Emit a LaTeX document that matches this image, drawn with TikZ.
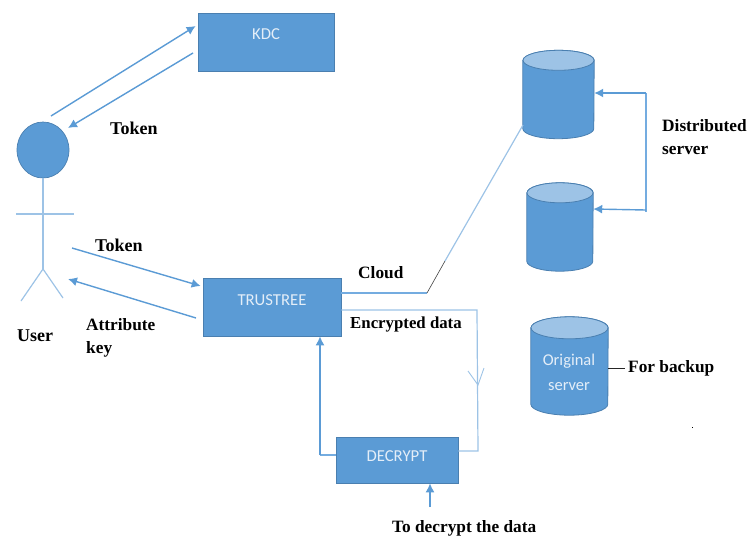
\documentclass[tikz,border=0pt]{standalone}
\usepackage{fontspec}
\setmainfont{Liberation Serif}
\newfontfamily\boxfont{Carlito}
\usetikzlibrary{shapes.geometric,arrows.meta,calc}
\definecolor{mainblue}{HTML}{5B9BD5}
\definecolor{edgeblue}{HTML}{4A7FB0}
\definecolor{paleblue}{HTML}{9DC3E6}
\definecolor{midblue}{HTML}{74ACE0}
\definecolor{boxtext}{HTML}{E4EEF8}
\tikzset{
  x=1pt,y=-1pt,
  boxnode/.style={draw=edgeblue,line width=0.7pt,fill=mainblue,inner sep=0pt},
  boxlabel/.style={text=boxtext,font=\boxfont\fontsize{16.7}{18}\selectfont,inner sep=0pt},
  drum/.style={inner sep=0pt},
  drumline/.style={draw=edgeblue,line width=0.8pt},
  lbl/.style={font=\bfseries\fontsize{17.3}{23.5}\selectfont,text=black,inner sep=0pt,align=left},
  tokenlbl/.style={lbl,font=\bfseries\fontsize{18}{23}\selectfont},
  arrowline/.style={draw=mainblue,line width=1.4pt,-{Latex[length=9pt,width=9pt]}},
  midline/.style={draw=midblue,line width=1.3pt},
  paleline/.style={draw=paleblue,line width=1.2pt},
  limb/.style={draw=paleblue,line width=1.2pt},
}
% #1 node name, #2 half width, #3 half height of the end ellipse
\newcommand{\drumdraw}[3]{%
  \path[fill=mainblue,drumline]
    ($(#1.north west)+(0,#3)$) -- ($(#1.south west)+(0,-#3)$)
    arc[start angle=180,end angle=360,x radius=#2pt,y radius=#3pt]
    -- ($(#1.north east)+(0,#3)$)
    arc[start angle=0,end angle=180,x radius=#2pt,y radius=#3pt] -- cycle;
  \path[fill=paleblue,drumline] ($(#1.north)+(0,#3)$) ellipse[x radius=#2pt,y radius=#3pt];
}
\begin{document}
\begin{tikzpicture}
\useasboundingbox (0,0) rectangle (747,536);
% boxes
\node[boxnode,minimum width=136pt,minimum height=58pt] (kdc) at (266,42) {};
\node[boxlabel] (kdct) at (266,34) {KDC};
\node[boxnode,minimum width=138pt,minimum height=58pt] (trust) at (272,307) {};
\node[boxlabel] (trustt) at (272,300) {TRUSTREE};
\node[boxnode,minimum width=122pt,minimum height=46pt] (dec) at (397,460) {};
\node[boxlabel] (dect) at (397,456) {DECRYPT};
% drums
\node[drum,minimum width=71pt,minimum height=88pt] (d1) at (558.5,94.5) {};
\drumdraw{d1}{35.5}{10}
\node[drum,minimum width=66pt,minimum height=88pt] (d2) at (560,227) {};
\drumdraw{d2}{33}{10}
\node[drum,minimum width=77pt,minimum height=98pt] (d3) at (569.5,366) {};
\drumdraw{d3}{38.5}{11}
\node[text=boxtext,font=\boxfont\fontsize{16.5}{25}\selectfont,align=center,inner sep=0pt] (d3t) at (569,372) {Original\\server};
% user
\node[ellipse,draw=edgeblue,line width=0.7pt,fill=mainblue,minimum width=52pt,minimum height=56pt,inner sep=0pt] (head) at (43,150) {};
\coordinate (hip) at (43,269);
\coordinate (armL) at (16,214);
\coordinate (armR) at (74,214);
\coordinate (footL) at (21,301);
\coordinate (footR) at (63,298);
\draw[limb] (head.south) -- (hip);
\draw[limb] (armL) -- (armR);
\draw[limb] (footL) -- (hip) -- (footR);
% labels
\node[tokenlbl,anchor=west] (ltok1) at (110,128) {Token};
\node[tokenlbl,anchor=west] (ltok2) at (95,245) {Token};
\node[tokenlbl,anchor=west] (luser) at (17,336) {User};
\node[lbl,anchor=north west] (lattr) at (86,318) {Attribute\\key};
\node[lbl,anchor=west] (lcloud) at (358,273) {Cloud};
\node[lbl,anchor=west,font=\bfseries\fontsize{16.8}{20}\selectfont] (lenc) at (350,324) {Encrypted data};
\node[lbl,anchor=north west] (ldist) at (662,119) {Distributed\\server};
\node[lbl,anchor=west] (lback) at (628,368) {For backup};
\node[lbl,anchor=west] (ldec) at (392,528) {To decrypt the data};
% user <-> kdc
\coordinate (uk) at (51,116);
\coordinate (ku) at (193,53);
\coordinate (ku2) at (68,128);
\draw[arrowline] (uk) -- ([xshift=-2pt,yshift=16pt]kdc.west);
\draw[arrowline] (ku) -- (ku2);
% user <-> trustree
\coordinate (ut) at (72,248);
\coordinate (tu) at (196,318);
\coordinate (tu2) at (68,279);
\draw[arrowline] (ut) -- ([xshift=-2pt,yshift=21pt]trust.west);
\draw[arrowline] (tu) -- (tu2);
% cloud
\coordinate (cb) at (427,293);
\coordinate (cm) at (445,261);
\coordinate (ce) at (523,125);
\draw[midline] ([yshift=14pt]trust.east) -- (cb);
\draw[draw=black!75,line width=0.6pt] (cb) -- (cm);
\draw[paleline] (cm) -- (ce);
% encrypted data
\coordinate (e1) at (477,310);
\coordinate (e2) at (478,451);
\coordinate (barbL) at (468,371);
\coordinate (barbR) at (484,368);
\coordinate (barbT) at (478,385);
\draw[paleline] ([yshift=-3pt]trust.east) -- (e1) -- (e2) -- ([yshift=9pt]dec.east);
\draw[paleline,line width=0.9pt] (barbL) -- (barbT) -- (barbR);
% decrypt -> trustree
\coordinate (f1) at (320,455);
\draw[midline] ([yshift=5pt]dec.west) -- (f1);
\draw[arrowline] (f1) -- (f1 |- trust.south);
% to decrypt
\coordinate (g1) at (430,507);
\draw[arrowline] (g1) -- (g1 |- dec.south);
% distributed server
\coordinate (h1) at (646,93);
\coordinate (h2) at (646,210);
\coordinate (h3) at (646,212);
\draw[midline] (h1) -- (h3);
\draw[arrowline] (h1) -- (d1.east |- h1);
\draw[arrowline] (h2) -- ([yshift=18pt]d2.east);
% backup
\draw[draw=black!85,line width=1pt] (d3.east |- lback.west) -- ([xshift=-3pt]lback.west);
\fill[black] (692,426.5) rectangle (693,428);
\end{tikzpicture}
\end{document}
